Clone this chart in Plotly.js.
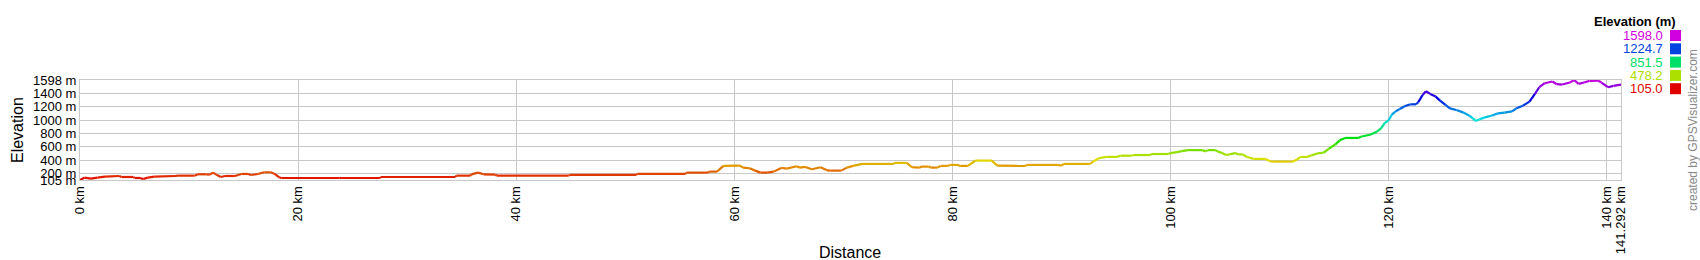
<!DOCTYPE html>
<html>
<head>
<meta charset="utf-8">
<script src="https://cdn.plot.ly/plotly-3.0.1.min.js"></script>
<style>
  html, body { margin: 0; padding: 0; background: #fff; }
  #chart { width: 1700px; height: 260px; }
</style>
</head>
<body>
<div id="chart"></div>
<script>
// Distance along track (km)
const distanceKm = [
  0, 0.4, 1.0, 1.6, 2.3, 3.6, 3.8, 4.9, 5.0, 5.5, 5.8, 6.2, 6.85, 8.7, 9.0, 10.5, 10.8, 11.6, 11.9, 12.2,
  12.5, 12.9, 13.3, 14.2, 14.5, 14.8, 15.4, 15.7, 16.3, 16.9, 17.5, 17.85, 18.3, 18.5, 23.8, 27.5, 27.6, 34.4, 34.5, 35.8,
  35.9, 36.5, 37.0, 38.1, 38.2, 44.8, 44.9, 51.0, 51.1, 55.5, 55.6, 57.6, 57.7, 58.4, 59.0, 60.5, 60.8, 61.4, 61.9, 62.4,
  63.0, 63.6, 64.3, 64.8, 65.7, 66.0, 66.5, 67.1, 67.9, 68.5, 68.8, 69.8, 70.3, 70.9, 71.7, 74.6, 74.7, 75.8, 76.3, 77.0,
  77.2, 77.8, 78.0, 78.6, 78.9, 79.5, 79.8, 80.5, 80.7, 81.4, 82.1, 83.6, 84.1, 86.7, 86.8, 89.6, 90.0, 90.2, 92.6, 92.9,
  93.4, 94.1, 95.1, 95.4, 96.4, 96.6, 98.1, 98.3, 99.8, 100.0, 100.6, 101.0, 101.6, 102.9, 103.2, 103.4, 104.1, 104.3, 104.7, 105.1,
  105.4, 105.9, 106.2, 106.6, 107.0, 107.6, 108.7, 109.1, 109.4, 111.2, 111.6, 111.9, 112.5, 112.9, 113.6, 114.0, 114.5, 115.1, 115.5, 116.0,
  117.2, 117.5, 118.3, 118.9, 119.3, 119.6, 120.0, 120.3, 120.6, 121.0, 121.5, 122.0, 122.5, 122.7, 123.1, 123.4, 123.8, 124.3, 124.7, 125.2,
  125.6, 126.2, 126.8, 127.4, 127.7, 128.0, 128.3, 128.8, 129.4, 130.0, 130.6, 131.3, 131.7, 132.3, 132.9, 133.4, 133.8, 134.3, 135.0, 135.4,
  135.9, 136.6, 137.0, 137.4, 137.9, 138.4, 139.2, 139.5, 140.1, 140.6, 141.292
];
// Elevation (m)
const elevationM = [
  105, 140, 125, 140, 155, 165, 150, 150, 135, 135, 120, 140, 155, 165, 170, 170, 190, 190, 185, 215,
  185, 150, 165, 165, 180, 195, 195, 180, 195, 220, 220, 195, 140, 135, 135, 135, 150, 150, 170, 170,
  190, 215, 190, 185, 170, 170, 182, 182, 195, 195, 215, 215, 230, 230, 315, 320, 290, 280, 245, 215,
  215, 230, 285, 275, 310, 290, 300, 265, 295, 250, 245, 245, 290, 315, 345, 345, 360, 360, 295, 290,
  305, 305, 290, 290, 315, 315, 330, 330, 315, 315, 395, 395, 320, 315, 330, 330, 320, 345, 345, 380,
  430, 450, 450, 468, 468, 478, 478, 493, 493, 507, 522, 537, 551, 551, 532, 551, 551, 532, 507, 478,
  488, 507, 488, 488, 449, 420, 420, 385, 380, 380, 410, 449, 449, 473, 507, 512, 571, 636, 697, 733,
  733, 754, 780, 826, 875, 950, 1000, 1085, 1125, 1165, 1210, 1235, 1235, 1265, 1375, 1430, 1390, 1350, 1290, 1225,
  1175, 1150, 1115, 1065, 1025, 985, 1010, 1040, 1065, 1100, 1110, 1130, 1175, 1215, 1275, 1390, 1490, 1550, 1575, 1535,
  1530, 1560, 1598, 1540, 1560, 1585, 1590, 1560, 1490, 1510, 1530
];
const xTickVals = [0, 20, 40, 60, 80, 100, 120, 140, 141.292];
const xTickText = ['0 km', '20 km', '40 km', '60 km', '80 km', '100 km', '120 km', '140 km', '141.292 km'];
const yTickVals = [105, 200, 400, 600, 800, 1000, 1200, 1400, 1598];
const yTickText = ['105 m', '200 m', '400 m', '600 m', '800 m', '1000 m', '1200 m', '1400 m', '1598 m'];
const legendValues = [1598.0, 1224.7, 851.5, 478.2, 105.0];
const legendTitle = 'Elevation (m)';
const xTitle = 'Distance';
const yTitle = 'Elevation';
const creditText = 'created by GPSVisualizer.com';

const eMin = 105, eMax = 1598;
function elevColor(m) {
  const t = Math.max(0, Math.min(1, (m - eMin) / (eMax - eMin)));
  const h = 296 * t, v = 224;
  const f = (h % 60) / 60;
  const sector = Math.floor(h / 60);
  let r, g, b;
  switch (sector) {
    case 0: r = v; g = v * f; b = 0; break;
    case 1: r = v * (1 - f); g = v; b = 0; break;
    case 2: r = 0; g = v; b = v * f; break;
    case 3: r = 0; g = v * (1 - f); b = v; break;
    default: r = v * f; g = 0; b = v; break;
  }
  return 'rgb(' + Math.round(r) + ',' + Math.round(g) + ',' + Math.round(b) + ')';
}

const traces = [];
for (let i = 0; i < distanceKm.length - 1; i++) {
  const mid = (elevationM[i] + elevationM[i + 1]) / 2;
  traces.push({
    type: 'scatter', mode: 'lines',
    x: [distanceKm[i], distanceKm[i + 1]],
    y: [elevationM[i], elevationM[i + 1]],
    line: { color: elevColor(mid), width: 2.2 },
    hoverinfo: 'skip', showlegend: false
  });
}

const W = 1700, H = 260;
const mL = 80, mR = 79, mT = 80, mB = 80;
const pw = W - mL - mR, ph = H - mT - mB;
const px2x = px => (px - mL) / pw;
const py2y = py => 1 - (py - mT) / ph;

const font = 'Liberation Sans, Arial, sans-serif';
const annotations = [
  { text: xTitle, xref: 'paper', yref: 'paper', x: px2x(850), y: py2y(252), showarrow: false,
    font: { family: font, size: 16, color: '#000' }, xanchor: 'center', yanchor: 'middle' },
  { text: yTitle, xref: 'paper', yref: 'paper', x: px2x(17), y: py2y(130), showarrow: false, textangle: -90,
    font: { family: font, size: 16, color: '#000' }, xanchor: 'center', yanchor: 'middle' },
  { text: '<b>' + legendTitle + '</b>', xref: 'paper', yref: 'paper', x: px2x(1678), y: py2y(21), showarrow: false,
    font: { family: font, size: 13, color: '#000' }, xanchor: 'right', yanchor: 'middle' },
  { text: creditText, xref: 'paper', yref: 'paper', x: px2x(1693), y: py2y(130), showarrow: false, textangle: -90,
    font: { family: font, size: 12, color: '#888' }, xanchor: 'center', yanchor: 'middle' }
];
const shapes = [];
legendValues.forEach((v, k) => {
  const cy = 35.5 + k * 13.3;
  annotations.push({ text: v.toFixed(1), xref: 'paper', yref: 'paper', x: px2x(1665), y: py2y(cy), showarrow: false,
    font: { family: font, size: 13, color: elevColor(v) }, xanchor: 'right', yanchor: 'middle' });
  shapes.push({ type: 'rect', xref: 'paper', yref: 'paper', x0: px2x(1670), x1: px2x(1681), y0: py2y(cy - 5.5), y1: py2y(cy + 5.5),
    fillcolor: elevColor(v), line: { width: 0 } });
});

const layout = {
  width: W, height: H,
  margin: { l: mL, r: mR, t: mT, b: mB, pad: 0 },
  paper_bgcolor: '#fff', plot_bgcolor: '#fff',
  showlegend: false,
  xaxis: {
    range: [0, 141.292], tickmode: 'array', tickvals: xTickVals, ticktext: xTickText,
    tickangle: -90, ticks: '', showgrid: true, gridcolor: '#c8c8c8', gridwidth: 1,
    showline: true, linecolor: '#c8c8c8', linewidth: 1, mirror: true, zeroline: false,
    tickfont: { family: font, size: 13, color: '#000' }, automargin: false, fixedrange: true
  },
  yaxis: {
    range: [105, 1598], tickmode: 'array', tickvals: yTickVals, ticktext: yTickText,
    ticks: '', showgrid: true, gridcolor: '#c8c8c8', gridwidth: 1,
    showline: true, linecolor: '#c8c8c8', linewidth: 1, mirror: true, zeroline: false,
    tickfont: { family: font, size: 13, color: '#000' }, automargin: false, fixedrange: true
  },
  annotations: annotations,
  shapes: shapes
};

Plotly.newPlot('chart', traces, layout, { displayModeBar: false, staticPlot: true });
</script>
</body>
</html>
